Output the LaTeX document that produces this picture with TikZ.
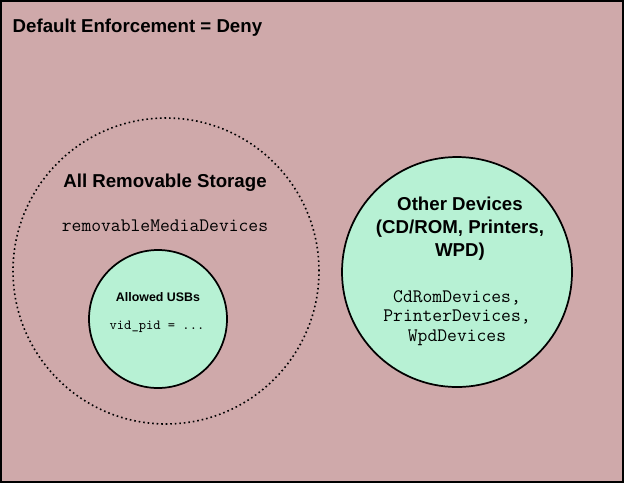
\documentclass[tikz,border=0pt]{standalone}
\usepackage{xcolor}
\usepackage{fontspec}
\setmainfont{Liberation Sans}
\usetikzlibrary{positioning}

\definecolor{denyfill}{HTML}{CFA9AA}
\definecolor{allowfill}{HTML}{B7F1D4}

\tikzset{
  zone/.style={circle, draw=black, line width=1.3pt, fill=allowfill, inner sep=0pt},
  dotzone/.style={circle, draw=black, line width=1.2pt, dash pattern=on 1.2pt off 2.2pt, inner sep=0pt},
  headline/.style={font=\bfseries\fontsize{14}{17.25}\selectfont, align=center},
  smallhead/.style={font=\bfseries\fontsize{9.3}{11}\selectfont, align=center},
  codetext/.style={font=\ttfamily\fontsize{14.3}{14.6}\selectfont, align=center},
  smallcode/.style={font=\ttfamily\fontsize{10.4}{11}\selectfont, align=center}
}

\begin{document}
\begin{tikzpicture}[x=0.75pt, y=-0.75pt]
                \useasboundingbox (0,0) rectangle (624,483);
                \draw[fill=denyfill, line width=1.5pt] (1,1) rectangle (623,482);

                \node[headline, anchor=base west] (denytitle) at (8,32) {Default Enforcement = Deny};

                % removable storage
                \node[dotzone, minimum size=229.5pt] (storage) at (166,271) {};
                \node[headline] (storagetitle) at (165,183) {All Removable Storage};
                \node[codetext] (storagecode) at (165,226) {removableMediaDevices};

                % allowed usbs
                \node[zone, minimum size=103.5pt] (usb) at (158,319) {};
                \node[smallhead] (usbtitle) at (158,297) {Allowed USBs};
                \node[smallcode] (usbcode) at (157,327) {vid\_pid = ...};

                % other devices
                \node[zone, minimum size=172.5pt] (other) at (457,272) {};
                \node[headline] (othertitle) at (460,229) {Other Devices\\(CD/ROM, Printers,\\WPD)};
                \node[codetext] (othercode) at (457,318) {CdRomDevices,\\PrinterDevices,\\WpdDevices};
            \end{tikzpicture}
\end{document}
